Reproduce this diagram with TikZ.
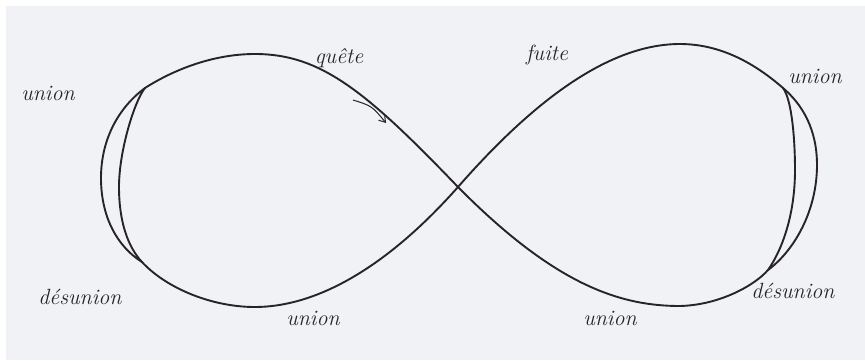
\documentclass[tikz,border=0pt]{standalone}
\usetikzlibrary{arrows.meta}
\definecolor{paper}{RGB}{240,242,245}
\definecolor{ink}{RGB}{40,36,38}
\tikzset{
  curve/.style={draw=ink, line width=1.9pt, line join=round, line cap=round},
  word/.style={anchor=base, inner sep=0pt, text=ink, font=\fontsize{22}{26}\selectfont\itshape}
}
\begin{document}
\begin{tikzpicture}[x=1pt,y=-1pt]
\useasboundingbox (0,0) rectangle (865,360);
\fill[white] (0,0) rectangle (865,360);
\fill[paper] (6,6) rectangle (865,360);
% key points
\coordinate (C)  at (458,187);   % crossing
\coordinate (TR) at (680,44);    % top of right lobe
\coordinate (SR) at (783,88);    % right split (top)
\coordinate (MR) at (795,170);   % inner right
\coordinate (JR) at (768,270);   % right split (bottom)
\coordinate (BR) at (680,306);   % bottom of right lobe
\coordinate (TL) at (255,54);    % top of left lobe
\coordinate (SL) at (145,88);    % left split (top)
\coordinate (ML) at (119,187);   % inner left
\coordinate (JL) at (142,262);   % left split (bottom)
\coordinate (BL) at (255,307);   % bottom of left lobe
\coordinate (OL) at (101,178);   % outer left
\coordinate (OR) at (817,165);   % outer right
% main figure-eight
\draw[curve] (C) .. controls (535,99) and (610,44) .. (TR)
  .. controls (725,44) and (760,68) .. (SR)
  .. controls (792,100) and (795,140) .. (MR)
  .. controls (795,215) and (782,250) .. (JR)
  .. controls (755,285) and (720,305) .. (BR)
  .. controls (620,306) and (555,285) .. (C)
  .. controls (365,90) and (320,54) .. (TL)
  .. controls (210,54) and (170,72) .. (SL)
  .. controls (135,100) and (119,150) .. (ML)
  .. controls (119,222) and (128,247) .. (JL)
  .. controls (165,287) and (210,307) .. (BL)
  .. controls (310,307) and (380,275) .. (C);
% outer arcs
\draw[curve] (SL) .. controls (118,108) and (101,140) .. (OL)
  .. controls (101,218) and (118,247) .. (JL);
\draw[curve] (SR) .. controls (803,105) and (817,130) .. (OR)
  .. controls (817,210) and (795,250) .. (JR);
% direction arrow
\coordinate (a1) at (353,100);
\coordinate (a2) at (386,123);
\draw[draw=ink, line width=1pt, -{Straight Barb[length=6pt,width=8pt]}]
  (a1) .. controls (372,106) .. (a2);
% labels
\node[word] (u1) at (48,100) {union};
\node[word] (q)  at (339,63) {quête};
\node[word] (f)  at (547,60) {fuite};
\node[word] (u2) at (815,83) {union};
\node[word] (d1) at (80,304) {désunion};
\node[word] (u3) at (313,325) {union};
\node[word] (u4) at (610,325) {union};
\node[word] (d2) at (793,298) {désunion};
\end{tikzpicture}
\end{document}
